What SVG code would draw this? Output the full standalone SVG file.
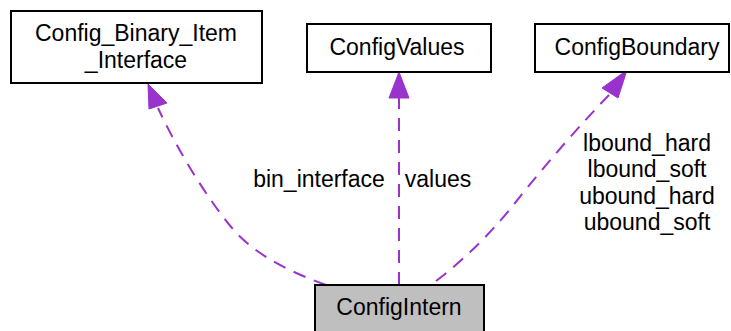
<svg xmlns="http://www.w3.org/2000/svg" width="731" height="331" viewBox="0 0 731 331">
<defs>
<style>
text{font-family:"Liberation Sans",Arial,sans-serif;font-size:23px;fill:#000;text-anchor:middle}
.node rect{stroke:#000;stroke-width:2;fill:#fff}
.edge{fill:none;stroke:#9a32cd;stroke-width:2;stroke-dasharray:13,9}
.head{fill:#9a32cd;stroke:#9a32cd;stroke-width:1}
</style>
</defs>
<rect width="731" height="331" fill="#fff"/>
<g id="connectors">
<path class="edge" d="M326,285 C290,272 255,255 232,228 C205,196 175,145 158,108"/>
<polygon class="head" points="148,84 167,103 149,109"/>
<path class="edge" d="M399,285 L399,98"/>
<polygon class="head" points="399,72 409,98 389,98"/>
<path class="edge" d="M436,281 C470,255 495,228 515,203 C545,165 580,125 609,95"/>
<polygon class="head" points="627,70 618,98 602,88"/>
<text x="319" y="187">bin_interface</text>
<text x="438" y="187">values</text>
<text x="647" y="151">lbound_hard</text>
<text x="647" y="177">lbound_soft</text>
<text x="647" y="204">ubound_hard</text>
<text x="647" y="230">ubound_soft</text>
</g>
<g id="node-binary" class="node">
<rect x="11" y="11" width="251" height="72"/>
<text x="136" y="41">Config_Binary_Item</text>
<text x="136" y="68">_Interface</text>
</g>
<g id="node-values" class="node">
<rect x="307" y="24" width="184" height="48"/>
<text x="397" y="55">ConfigValues</text>
</g>
<g id="node-boundary" class="node">
<rect x="535" y="24" width="194" height="48"/>
<text x="637" y="55">ConfigBoundary</text>
</g>
<g id="node-intern" class="node">
<rect x="315" y="285" width="169" height="50" style="fill:#bfbfbf"/>
<text x="399" y="315">ConfigIntern</text>
</g>
</svg>
